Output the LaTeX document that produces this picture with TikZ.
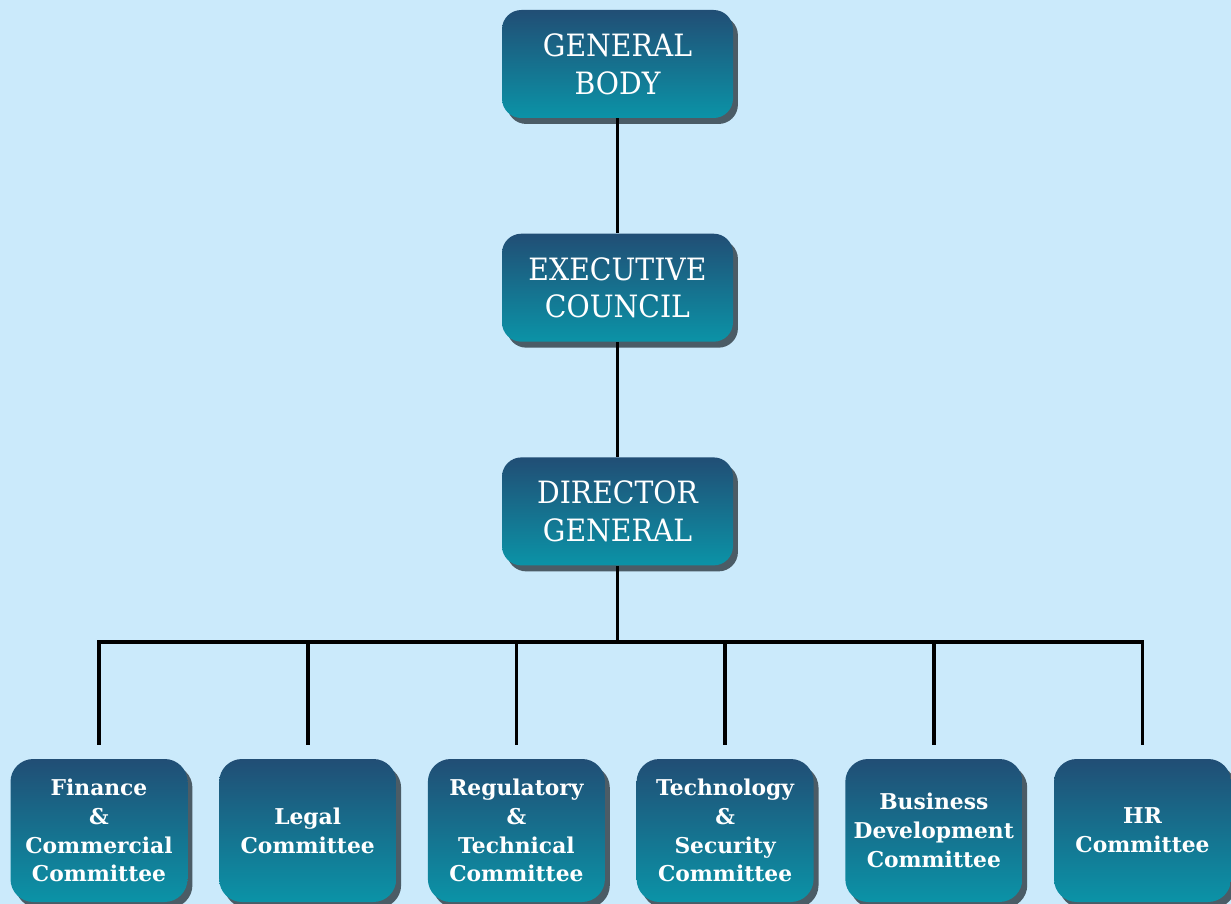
\documentclass[tikz,border=0pt]{standalone}
\usepackage{fontspec}
\setmainfont{DejaVu Serif}
\newfontfamily\headfont{DejaVu Serif}[FakeStretch=0.92]
\usetikzlibrary{positioning,shadows}

\definecolor{pagebg}{RGB}{203,234,251}
\definecolor{boxtop}{RGB}{33,78,117}
\definecolor{boxbottom}{RGB}{11,147,167}
\definecolor{boxshadow}{RGB}{75,92,102}

\begin{document}
\begin{tikzpicture}[
    node distance=2.3cm and 0.62cm,
    box/.style={rounded corners=11pt, top color=boxtop, bottom color=boxbottom, text=white, align=center,
      drop shadow={shadow xshift=2.8pt, shadow yshift=-3.4pt, fill=boxshadow, opacity=1}},
    head/.style={box, minimum width=4.62cm, minimum height=2.16cm, font=\headfont\fontsize{17.5}{21.5}\selectfont},
    cmte/.style={box, rounded corners=13pt, minimum width=3.54cm, minimum height=2.86cm, font=\bfseries\fontsize{12.4}{16.4}\selectfont},
    link/.style={line width=2.1pt}
  ]
  \fill[pagebg] (0,0) rectangle (24.62,-18.08);
  \useasboundingbox (0,0) rectangle (24.62,-18.08);

  % chain of command
  \node[head] (gb) at (12.35,-1.28) {GENERAL\\BODY};
  \node[head, below=of gb] (ec) {EXECUTIVE\\COUNCIL};
  \node[head, below=of ec] (dg) {DIRECTOR\\GENERAL};

  % committees
  \node[cmte] (fin) at (1.98,-16.61) {Finance\\\&\\Commercial\\Committee};
  \node[cmte, right=of fin] (legal) {Legal\\Committee};
  \node[cmte, right=of legal] (reg) {Regulatory\\\&\\Technical\\Committee};
  \node[cmte, right=of reg] (tech) {Technology\\\&\\Security\\Committee};
  \node[cmte, right=of tech] (biz) {Business\\Development\\Committee};
  \node[cmte, right=of biz] (hr) {HR\\Committee};

  \coordinate (bus) at (0,-12.84);

  \draw[link] (gb.south) -- (ec.north);
  \draw[link] (ec.south) -- (dg.north);
  \draw[link] (dg.south) -- (dg.south |- bus);
  \draw[link, line cap=rect] (fin.north |- bus) -- (hr.north |- bus);
  \foreach \c in {fin,legal,reg,tech,biz,hr}
    \draw[link] (\c.north |- bus) -- ([yshift=0.28cm]\c.north);
\end{tikzpicture}
\end{document}
